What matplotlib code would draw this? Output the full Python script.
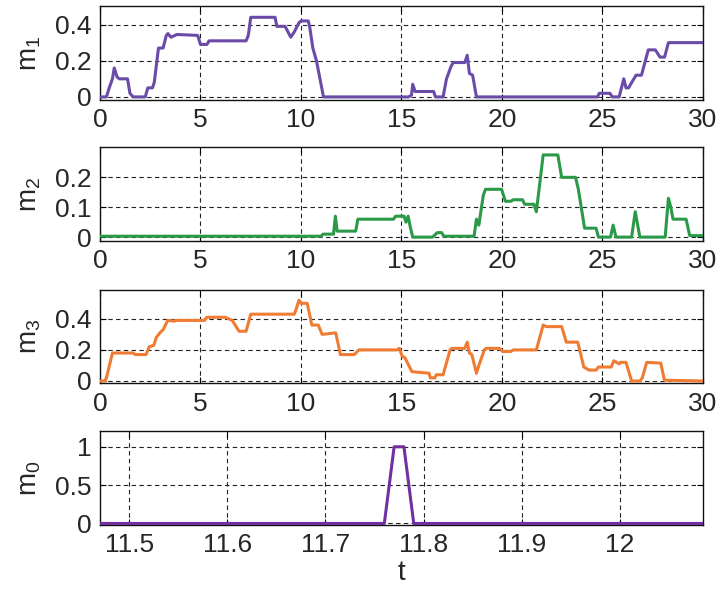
import numpy as np
import matplotlib
matplotlib.use('Agg')
import matplotlib.pyplot as plt

plt.rcParams['font.family'] = ['Liberation Sans', 'DejaVu Sans']
plt.rcParams['mathtext.fontset'] = 'custom'
plt.rcParams['mathtext.rm'] = 'Liberation Sans'
plt.rcParams['mathtext.it'] = 'Liberation Sans'

# m1 breakpoints (time, value)
m1_t = [0, 0.32, 0.46, 0.62, 0.71, 0.85, 0.96, 1.37, 1.49, 1.65, 2.25, 2.38, 2.61, 2.7, 2.91,
        3.14, 3.3, 3.38, 3.53, 3.83, 4.86, 5.0, 5.32, 5.43, 7.27, 7.38, 7.5, 8.71, 8.8, 9.21,
        9.49, 9.67, 9.9, 10.0, 10.36, 10.43, 10.59, 10.77, 11.12, 15.35, 15.5, 15.56, 15.68,
        16.6, 16.69, 17.07, 17.24, 17.47, 17.58, 18.15, 18.27, 18.38, 18.54, 18.73, 24.75,
        24.84, 25.37, 25.49, 25.83, 26.06, 26.17, 26.3, 26.4, 26.67, 26.94, 27.28, 27.63,
        27.86, 28.09, 28.28, 30]
m1_v = [0, 0, 0.05, 0.1, 0.16, 0.11, 0.1, 0.1, 0.02, 0, 0, 0.05, 0.05, 0.08, 0.27,
        0.27, 0.34, 0.35, 0.33, 0.345, 0.34, 0.29, 0.29, 0.31, 0.31, 0.34, 0.44, 0.44, 0.39, 0.39,
        0.33, 0.36, 0.41, 0.42, 0.42, 0.39, 0.27, 0.2, 0, 0, 0.01, 0.07, 0.03,
        0.03, 0, 0, 0.1, 0.17, 0.19, 0.19, 0.23, 0.13, 0.12, 0, 0,
        0.02, 0.02, 0, 0, 0.1, 0.05, 0.05, 0.07, 0.12, 0.12, 0.26, 0.26,
        0.22, 0.22, 0.3, 0.3]

# m2 breakpoints
m2_t = [0, 11.0, 11.1, 11.62, 11.71, 11.8, 12.72, 12.83, 14.6, 14.71, 15.13, 15.22, 15.33,
        15.45, 15.56, 16.55, 16.78, 17.0, 17.1, 18.61, 18.73, 18.85, 19.07, 19.18, 19.98,
        20.17, 20.44, 20.56, 21.02, 21.13, 21.59, 21.71, 22.05, 22.78, 22.97, 23.66, 23.8,
        24.11, 24.68, 24.8, 25.4, 25.53, 25.67, 26.45, 26.63, 26.86, 28.12, 28.28, 28.4,
        28.51, 29.16, 29.34, 30]
m2_v = [0.003, 0.003, 0.01, 0.01, 0.07, 0.02, 0.02, 0.06, 0.06, 0.07, 0.07, 0.05, 0.07,
        0.03, 0, 0, 0.015, 0.015, 0.003, 0.003, 0.06, 0.04, 0.14, 0.16, 0.16,
        0.12, 0.12, 0.125, 0.125, 0.11, 0.11, 0.085, 0.275, 0.275, 0.2, 0.2, 0.16,
        0.03, 0.03, 0, 0, 0.04, 0, 0, 0.085, 0, 0, 0.13, 0.1,
        0.06, 0.06, 0.005, 0.005]

# m3 breakpoints
m3_t = [0, 0.23, 0.32, 0.62, 1.65, 1.76, 2.29, 2.45, 2.68, 2.8, 2.98, 3.14, 3.37, 3.71,
        3.8, 5.2, 5.32, 6.23, 6.58, 6.92, 7.27, 7.5, 9.67, 9.78, 9.9, 10.0, 10.31, 10.54,
        10.86, 11.05, 11.73, 11.96, 12.65, 12.88, 14.76, 14.9, 15.03, 15.17, 15.52, 16.37,
        16.44, 16.66, 16.73, 17.07, 17.42, 17.5, 18.15, 18.27, 18.38, 18.5, 18.73, 18.85,
        19.12, 19.2, 19.87, 20.03, 20.44, 20.56, 21.71, 22.05, 22.2, 22.97, 23.2, 23.77,
        24.07, 24.34, 24.68, 24.8, 25.44, 25.56, 25.83, 25.9, 26.17, 26.45, 26.86, 26.98,
        27.2, 27.9, 28.08, 30]
m3_v = [0, 0, 0.02, 0.18, 0.18, 0.17, 0.17, 0.22, 0.23, 0.28, 0.31, 0.33, 0.39, 0.385,
        0.39, 0.39, 0.41, 0.41, 0.39, 0.32, 0.32, 0.43, 0.43, 0.47, 0.52, 0.5, 0.5, 0.36,
        0.36, 0.3, 0.31, 0.17, 0.17, 0.2, 0.2, 0.21, 0.16, 0.15, 0.06, 0.05,
        0.02, 0.02, 0.04, 0.04, 0.2, 0.21, 0.21, 0.25, 0.18, 0.17, 0.05, 0.1,
        0.2, 0.21, 0.21, 0.19, 0.19, 0.2, 0.2, 0.36, 0.35, 0.35, 0.25, 0.25,
        0.09, 0.07, 0.07, 0.09, 0.09, 0.13, 0.11, 0.12, 0.12, 0, 0, 0.02,
        0.12, 0.115, 0.005, 0]

# m0 around the switching instant
m0_t = [11.45, 11.76, 11.77, 11.78, 11.79, 12.1]
m0_v = [0, 0, 1, 1, 0, 0]

fig = plt.figure(figsize=(7.23, 5.92), dpi=100)

left, width, height = 0.1383, 0.834, 0.158
bottoms = [0.8311, 0.5929, 0.3525, 0.1132]

series = [
    (m1_t, m1_v, '#6a4ba8', r'$\mathregular{m_1}$', (-0.017, 0.5), [0, 0.2, 0.4], ['0', '0.2', '0.4']),
    (m2_t, m2_v, '#2b9a48', r'$\mathregular{m_2}$', (-0.013, 0.3), [0, 0.1, 0.2], ['0', '0.1', '0.2']),
    (m3_t, m3_v, '#f07b32', r'$\mathregular{m_3}$', (-0.015, 0.587), [0, 0.2, 0.4], ['0', '0.2', '0.4']),
    (m0_t, m0_v, '#7030a0', r'$\mathregular{m_0}$', (-0.02, 1.2), [0, 0.5, 1], ['0', '0.5', '1']),
]

for i, (t, v, col, lab, ylim, yt, ytl) in enumerate(series):
    ax = fig.add_axes([left, bottoms[i], width, height])
    ax.plot(t, v, color=col, linewidth=2.2, zorder=3)
    ax.set_ylim(*ylim)
    ax.set_yticks(yt)
    ax.set_yticklabels(ytl)
    if i < 3:
        ax.set_xlim(0, 30)
        ax.set_xticks(np.arange(0, 31, 5))
    else:
        ax.set_xlim(11.47, 12.085)
        xt = [11.5, 11.6, 11.7, 11.8, 11.9, 12.0]
        ax.set_xticks(xt)
        ax.set_xticklabels(['11.5', '11.6', '11.7', '11.8', '11.9', '12'])
        ax.set_xlabel('t', fontsize=20, color='#262626', labelpad=2)
    ax.grid(True, color='#222222', linestyle=(0, (4, 3)), linewidth=0.8)
    ax.tick_params(direction='in', length=4, width=0.8, labelsize=19,
                   labelcolor='#262626', pad=6, top=True, right=True)
    for s in ax.spines.values():
        s.set_linewidth(1.0)
        s.set_color('#111111')
    ax.set_ylabel(lab, fontsize=20, color='#262626')
    ax.yaxis.set_label_coords(-0.095, 0.5)

plt.savefig('out.png', dpi=100)
